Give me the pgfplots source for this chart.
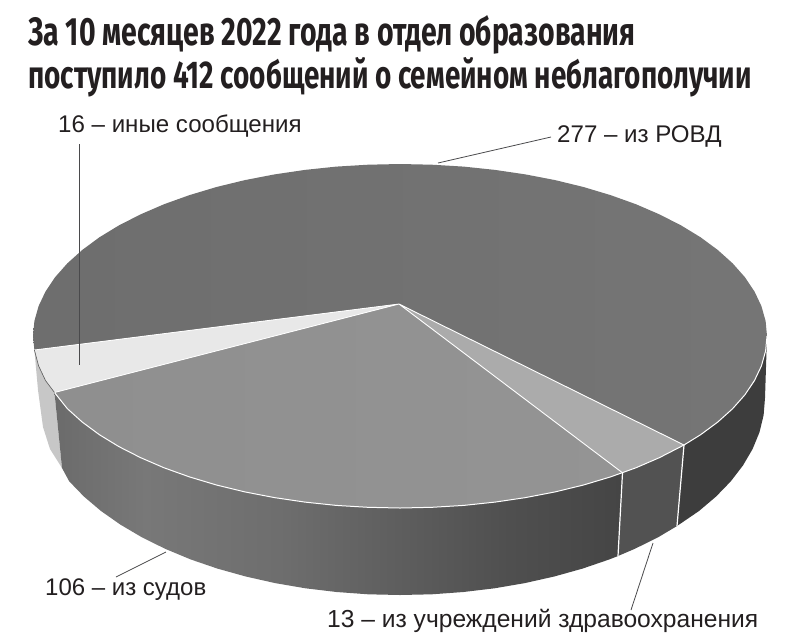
\documentclass[border=0pt]{standalone}
\usepackage{fontspec}
\setmainfont{Liberation Sans}
\newfontfamily\titlefont[FakeStretch=0.72]{Fira Sans}
\usepackage{pgfplots}
\pgfplotsset{compat=1.18}

\definecolor{txt}{HTML}{231F20}
\definecolor{leader}{HTML}{4A4A4C}

% side of the court slice: lighter on the left, dark towards the right
\pgfdeclarehorizontalshading{courtside}{100bp}{
  color(0bp)=(black!58); color(25bp)=(black!58); color(33bp)=(black!53);
  color(45bp)=(black!57); color(55bp)=(black!63); color(65bp)=(black!69);
  color(75bp)=(black!73); color(100bp)=(black!73)}

\begin{document}
\begin{tikzpicture}
\begin{axis}[
  scale only axis, width=800pt, height=641pt,
  xmin=0, xmax=800, ymin=0, ymax=641, y dir=reverse,
  hide axis, clip=false,
]
\path[use as bounding box] (axis cs:0,0) rectangle (axis cs:800,641);

% big slice (277)
\addplot[draw=none, left color=black!57, right color=black!54] coordinates {
  (399,304) (34.4,350) (33,336) (34.4,321) (38.6,306.1) (45.5,291.5) (55.1,277.2)
  (67.4,263.3) (82.2,250) (99.4,237.3) (118.9,225.4) (140.5,214.4) (164.1,204.2)
  (189.5,195.1) (216.5,187) (244.9,180.1) (274.5,174.4) (305,169.9) (336.3,166.6)
  (368,164.7) (400,164) (432,164.7) (463.7,166.6) (495,169.9) (525.5,174.4)
  (555.1,180.1) (583.5,187) (610.5,195.1) (635.9,204.2) (659.5,214.4) (681.1,225.4)
  (700.6,237.3) (717.8,250) (732.6,263.3) (744.9,277.2) (754.5,291.5) (761.4,306.1)
  (765.6,321) (767,336) (765.6,351) (761.4,365.9) (754.5,380.5) (744.9,394.8)
  (732.6,408.7) (717.8,422) (700.6,434.7) (684,445)
} -- cycle;

% slice 13
\addplot[draw=none, fill=black!33] coordinates {
  (399,304) (684,445) (659.5,457.6) (635.9,467.8) (622.5,472.8)
} -- cycle;

% slice 106
\addplot[draw=none, left color=black!44, right color=black!42] coordinates {
  (399,304) (622.5,472.8) (610.5,476.9) (583.5,485) (555.1,491.9) (525.5,497.6)
  (495,502.1) (463.7,505.4) (432,507.3) (400,508) (368,507.3) (336.3,505.4)
  (305,502.1) (274.5,497.6) (244.9,491.9) (216.5,485) (189.5,476.9) (164.1,467.8)
  (140.5,457.6) (118.9,446.6) (99.4,434.7) (82.2,422) (67.4,408.7) (54.5,392.5)
} -- cycle;

% slice 16
\addplot[draw=none, fill=black!9] coordinates {
  (399,304) (54.5,392.5) (45.5,380.5) (38.6,365.9) (34.4,350)
} -- cycle;

% side walls
\addplot[draw=none, fill=black!22] coordinates {
  (34.4,350) (38.6,365.9) (45.5,380.5) (54.5,392.5) (62,468) (50,449) (43,427) (38,390)
} -- cycle;
\addplot[draw=none, shading=courtside] coordinates {
  (54.5,392.5) (67.4,408.7) (82.2,422) (99.4,434.7) (118.9,446.6) (140.5,457.6)
  (164.1,467.8) (189.5,476.9) (216.5,485) (244.9,491.9) (274.5,497.6) (305,502.1)
  (336.3,505.4) (368,507.3) (400,508) (432,507.3) (463.7,505.4) (495,502.1)
  (525.5,497.6) (555.1,491.9) (583.5,485) (610.5,476.9) (622.5,472.8)
  (618,556) (609.4,559.4) (582.5,568.6) (554.2,576.5) (524.8,583.1) (494.5,588.3)
  (463.4,592) (431.8,594.3) (400,595) (368.2,594.3) (336.6,592) (305.5,588.3)
  (275.2,583.1) (245.8,576.5) (217.5,568.6) (190.6,559.4) (165.4,548.9)
  (141.9,537.3) (120.4,524.6) (101,511) (83.9,496.5) (69.2,481.3) (62,468)
} -- cycle;
\addplot[draw=none, fill=black!68] coordinates {
  (622.5,472.8) (635.9,467.8) (659.5,457.6) (684,445) (677,526) (658.1,537.3)
  (634.6,548.9) (618,556)
} -- cycle;
\addplot[draw=none, fill=black!76] coordinates {
  (684,445) (700.6,434.7) (717.8,422) (732.6,408.7) (744.9,394.8) (754.5,380.5)
  (761.4,365.9) (765.6,351) (767,336) (765,398) (763.6,415.2) (759.5,432.2)
  (752.6,449) (743,465.4) (730.8,481.3) (716.1,496.5) (699,511) (677,526)
} -- cycle;

% white seams
\addplot[white, line width=0.8pt] coordinates {(34.4,350) (399,304) (54.5,392.5)};
\addplot[white, line width=0.9pt] coordinates {(622.5,472.8) (399,304) (684,445)};
\addplot[white, line width=1.2pt] coordinates {(622.5,472.8) (618,556)};
\addplot[white, line width=1.2pt] coordinates {(684,445) (677,526)};
\addplot[white, line width=1pt] coordinates {
  (54.5,392.5) (67.4,408.7) (82.2,422) (99.4,434.7) (118.9,446.6) (140.5,457.6)
  (164.1,467.8) (189.5,476.9) (216.5,485) (244.9,491.9) (274.5,497.6) (305,502.1)
  (336.3,505.4) (368,507.3) (400,508) (432,507.3) (463.7,505.4) (495,502.1)
  (525.5,497.6) (555.1,491.9) (583.5,485) (610.5,476.9) (635.9,467.8) (659.5,457.6)
  (684,445) (700.6,434.7) (717.8,422) (732.6,408.7) (744.9,394.8) (754.5,380.5)
  (761.4,365.9) (765.6,351) (767,336)
};
\addplot[black!65, line width=0.6pt] coordinates {
  (34.4,350) (38.6,365.9) (45.5,380.5) (54.5,392.5)
};

% leader lines
\addplot[leader, line width=0.8pt] coordinates {(79,144) (79,365)};
\addplot[leader, line width=0.8pt] coordinates {(438,163) (551,137)};
\addplot[leader, line width=0.8pt] coordinates {(166,552) (116,577)};
\addplot[leader, line width=0.8pt] coordinates {(653,543) (631,610)};

% texts
\node[anchor=base west, inner sep=0pt, text=txt, font=\titlefont\bfseries\fontsize{39.5}{42}\selectfont] at (axis cs:28,45) {За 10 месяцев 2022 года в отдел образования};
\node[anchor=base west, inner sep=0pt, text=txt, font=\titlefont\bfseries\fontsize{38.7}{42}\selectfont] at (axis cs:28,88) {поступило 412 сообщений о семейном неблагополучии};
\node[anchor=base west, inner sep=0pt, text=txt, font=\fontsize{24.1}{28}\selectfont] at (axis cs:58,132.5) {16 – иные сообщения};
\node[anchor=base west, inner sep=0pt, text=txt, font=\fontsize{24.1}{28}\selectfont] at (axis cs:557,142) {277 – из РОВД};
\node[anchor=base west, inner sep=0pt, text=txt, font=\fontsize{24}{28}\selectfont] at (axis cs:45,595.5) {106 – из судов};
\node[anchor=base west, inner sep=0pt, text=txt, font=\fontsize{24.6}{28}\selectfont] at (axis cs:327,627.5) {13 – из учреждений здравоохранения};
\end{axis}
\end{tikzpicture}
\end{document}
